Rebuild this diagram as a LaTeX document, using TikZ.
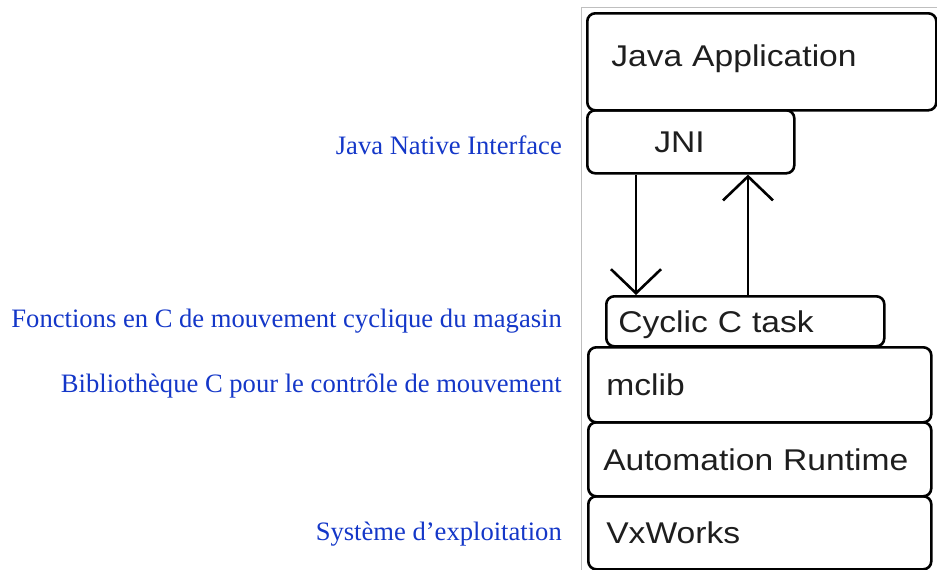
\documentclass[tikz,border=0pt]{standalone}
\usepackage{fontspec}
\newfontfamily\boxfont[FakeStretch=1.12]{Liberation Sans}
\newfontfamily\notefont{Liberation Serif}
\usepackage{tikz}
\usetikzlibrary{positioning,arrows.meta,calc}
\definecolor{noteblue}{RGB}{20,55,200}
\definecolor{boxtext}{RGB}{30,30,30}
\tikzset{
  layer/.style={draw=black,line width=2.6pt,rounded corners=8pt,anchor=north west,
    inner ysep=0pt,align=left,text height=22pt,text depth=0pt,text=boxtext,
    font=\boxfont\fontsize{30}{36}\selectfont},
  note/.style={anchor=base east,inner sep=0pt,text=noteblue,font=\notefont\fontsize{26.6}{30}\selectfont},
  flow/.style={line width=2.6pt,-{Straight Barb[length=24pt,width=50pt]}}
}
\begin{document}
\begin{tikzpicture}[x=1pt,y=-1pt]
\useasboundingbox (0,0) rectangle (937,570);
% screenshot frame
\draw[gray!50,line width=1pt] (581,570) -- (581,7) -- (937,7);
% layer stack (pixel coordinates, y down)
\node[layer,inner xsep=24pt,text width=301pt,minimum height=97pt,text depth=13pt] (java) at (586,12) {Java Application};
\node[layer,inner xsep=67pt,text width=73pt,minimum height=63pt] (jni) at (586,109) {JNI};
\node[layer,inner xsep=12pt,text width=254pt,minimum height=50pt] (cyc) at (605,295) {Cyclic C task};
\node[layer,inner xsep=18pt,text width=307pt,minimum height=75pt] (mclib) at (587,346) {mclib};
\node[layer,inner xsep=15pt,text width=313pt,minimum height=74pt] (rt) at (587,421) {Automation Runtime};
\node[layer,inner xsep=18pt,text width=307pt,minimum height=73pt] (vx) at (587,495) {VxWorks};
% calls between JNI and the cyclic task
\coordinate (dn) at (636,0);
\coordinate (up) at (748,0);
\draw[flow] (jni.south -| dn) -- (cyc.north -| dn);
\draw[flow] (cyc.north -| up) -- (jni.south -| up);
% captions on the left
\node[note] (jnilbl) at (562,154) {Java Native Interface};
\node[note] (cyclbl) at (562,327) {Fonctions en C de mouvement cyclique du magasin};
\node[note] (liblbl) at (562,392) {Bibliothèque C pour le contrôle de mouvement};
\node[note] (oslbl) at (562,540) {Système d’exploitation};
\end{tikzpicture}
\end{document}
